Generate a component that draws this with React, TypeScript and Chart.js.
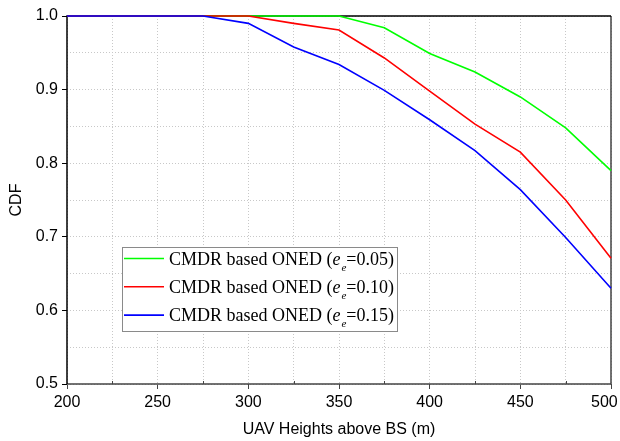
import React, { useEffect, useRef } from "react";
import { Chart, registerables } from "chart.js";

Chart.register(...registerables);

// UAV heights above the base station (m)
const heights = [200, 225, 250, 275, 300, 325, 350, 375, 400, 425, 450, 475, 500];

// CDF for each estimation error level
const cdfE005 = [1, 1, 1, 1, 1, 1, 1, 0.984, 0.949, 0.924, 0.89, 0.848, 0.79];
const cdfE010 = [1, 1, 1, 1, 1, 0.99, 0.981, 0.943, 0.898, 0.853, 0.815, 0.75, 0.671];
const cdfE015 = [1, 1, 1, 1, 0.99, 0.958, 0.934, 0.899, 0.859, 0.817, 0.764, 0.699, 0.63];

const errorLevels = ["0.05", "0.10", "0.15"];
const seriesColors = ["#00ff00", "#ff0000", "#0000ff"];
const legendPrefix = "CMDR based ONED (";

const sansFont = '"Liberation Sans", Arial, sans-serif';
const serifFont = '"Liberation Serif", "Times New Roman", serif';

// Plot frame drawn over the grid, under the curves
const framePlugin = {
  id: "plotFrame",
  beforeDatasetsDraw(chart: any) {
    const { ctx, chartArea } = chart;
    const { left, right, top, bottom } = chartArea;
    ctx.save();
    ctx.lineWidth = 1.5;
    ctx.strokeStyle = "#444";
    ctx.beginPath();
    ctx.moveTo(left, bottom);
    ctx.lineTo(right, bottom);
    ctx.lineTo(right, top);
    ctx.stroke();
    ctx.strokeStyle = "#000";
    ctx.beginPath();
    ctx.moveTo(left, bottom);
    ctx.lineTo(left, top);
    ctx.lineTo(right, top);
    ctx.stroke();
    // small inward ticks at the minor x positions
    const xs = chart.scales.x;
    ctx.strokeStyle = "#444";
    ctx.lineWidth = 1;
    for (const v of heights) {
      if (v % 50 !== 0) {
        const px = Math.round(xs.getPixelForValue(v)) + 0.5;
        ctx.beginPath();
        ctx.moveTo(px, bottom);
        ctx.lineTo(px, bottom - 3);
        ctx.stroke();
      }
    }
    ctx.restore();
  },
};

// Boxed legend with subscripted symbol e_e
const legendPlugin = {
  id: "boxedLegend",
  afterDatasetsDraw(chart: any) {
    const { ctx, chartArea } = chart;
    const x0 = chartArea.left + 55;
    const y0 = chartArea.top + 231;
    const w = 275;
    const h = 84;
    ctx.save();
    ctx.fillStyle = "#fff";
    ctx.fillRect(x0, y0, w, h);
    ctx.strokeStyle = "#8a8a8a";
    ctx.lineWidth = 1;
    ctx.strokeRect(x0 + 0.5, y0 + 0.5, w, h);
    ctx.textBaseline = "alphabetic";
    ctx.textAlign = "left";
    for (let i = 0; i < errorLevels.length; i++) {
      const cy = y0 + 11.5 + i * 28.3;
      ctx.strokeStyle = seriesColors[i];
      ctx.lineWidth = 1.6;
      ctx.beginPath();
      ctx.moveTo(x0 + 2, cy);
      ctx.lineTo(x0 + 42, cy);
      ctx.stroke();
      const base = cy + 6;
      let tx = x0 + 47;
      ctx.fillStyle = "#000";
      ctx.font = `18px ${serifFont}`;
      ctx.fillText(legendPrefix, tx, base);
      tx += ctx.measureText(legendPrefix).width;
      ctx.font = `italic 18px ${serifFont}`;
      ctx.fillText("e", tx, base);
      tx += ctx.measureText("e").width + 1;
      ctx.font = `italic 11px ${serifFont}`;
      ctx.fillText("e", tx, base + 6);
      tx += ctx.measureText("e").width;
      ctx.font = `18px ${serifFont}`;
      const rest = "=" + errorLevels[i] + ")";
      ctx.fillText(rest, tx, base);
    }
    ctx.restore();
  },
};

export default function App() {
  const canvasRef = useRef<HTMLCanvasElement | null>(null);

  useEffect(() => {
    if (!canvasRef.current) return;
    const seriesData = [cdfE005, cdfE010, cdfE015];
    const chart = new Chart(canvasRef.current, {
      type: "line",
      data: {
        labels: heights,
        datasets: seriesData.map((vals, i) => ({
          label: legendPrefix + "e=" + errorLevels[i] + ")",
          data: heights.map((h, j) => ({ x: h, y: vals[j] })),
          borderColor: seriesColors[i],
          backgroundColor: seriesColors[i],
          borderWidth: 1.6,
          pointRadius: 0,
          tension: 0,
          fill: false,
          clip: false as any,
          order: 2 - i,
        })),
      },
      options: {
        animation: false,
        responsive: false,
        events: [],
        layout: { padding: { top: 16, right: 9, left: 0, bottom: 0 } },
        plugins: {
          legend: { display: false },
          tooltip: { enabled: false },
        },
        scales: {
          x: {
            type: "linear",
            min: 200,
            max: 500,
            afterFit(scale: any) {
              scale.height = 57;
              scale.paddingLeft = 0;
              scale.paddingRight = 0;
            },
            ticks: {
              stepSize: 25,
              autoSkip: false,
              maxRotation: 0,
              padding: 4,
              color: "#000",
              font: { family: sansFont, size: 16 },
              // last label nudged left so it stays inside the canvas
              callback: (v: any) =>
                Number(v) === 500 ? "500   " : Number(v) % 50 === 0 ? String(v) : "",
            },
            grid: {
              color: "#c8c8c8",
              lineWidth: 1,
              tickLength: 5,
              tickWidth: 1,
              tickBorderDash: [],
              tickColor: (c: any) =>
                c.tick && c.tick.value % 50 === 0 ? "#444" : "rgba(0,0,0,0)",
            },
            border: { display: false, dash: [1, 2] },
            title: {
              display: true,
              text: "UAV Heights above BS (m)",
              color: "#000",
              font: { family: sansFont, size: 16 },
              padding: { top: 0, bottom: 2 },
            },
          },
          y: {
            type: "linear",
            min: 0.5,
            max: 1.0,
            afterFit(scale: any) {
              scale.width = 67;
              scale.paddingTop = 0;
              scale.paddingBottom = 0;
            },
            ticks: {
              stepSize: 0.05,
              autoSkip: false,
              padding: 4,
              color: "#000",
              font: { family: sansFont, size: 16 },
              callback: (v: any) =>
                Math.round(Number(v) * 100) % 10 === 0 ? Number(v).toFixed(1) : "",
            },
            grid: {
              color: "#c8c8c8",
              lineWidth: 1,
              tickLength: 5,
              tickWidth: 1,
              tickBorderDash: [],
              tickColor: (c: any) =>
                c.tick && Math.round(c.tick.value * 100) % 10 === 0 ? "#000" : "rgba(0,0,0,0)",
            },
            border: { display: false, dash: [1, 2] },
            title: {
              display: true,
              text: "CDF",
              color: "#000",
              font: { family: sansFont, size: 16 },
              padding: { top: 7, bottom: 0 },
            },
          },
        },
      },
      plugins: [framePlugin, legendPlugin],
    });
    return () => chart.destroy();
  }, []);

  return (
    <div style={{ position: "absolute", left: 0, top: 0, width: 620, height: 441, background: "#fff" }}>
      <canvas ref={canvasRef} width={620} height={441} />
    </div>
  );
}
